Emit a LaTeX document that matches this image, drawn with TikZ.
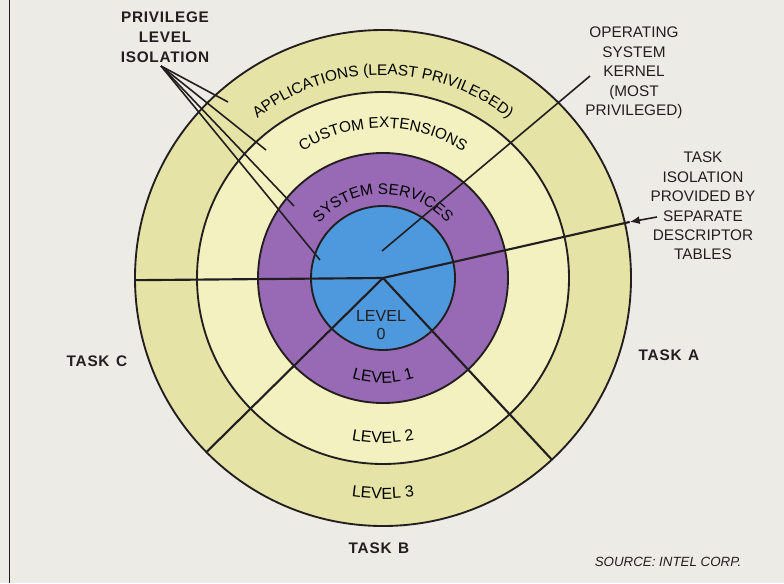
\documentclass[tikz,border=0pt]{standalone}
\usepackage{xcolor}
\usepackage{fontspec}
\setmainfont{Liberation Sans}
\usepackage{tikz}
\usetikzlibrary{calc,decorations.text,arrows.meta}
\definecolor{PaperGrey}{RGB}{237,235,229}
\definecolor{RingApps}{RGB}{230,227,166}
\definecolor{RingCustom}{RGB}{244,241,192}
\definecolor{RingServices}{RGB}{152,106,182}
\definecolor{RingKernel}{RGB}{78,152,222}
\definecolor{InkDark}{RGB}{35,31,32}
\newcommand{\notefont}{\fontsize{11.5}{14.6}\selectfont}
\newcommand{\taskfont}{\fontsize{11.5}{14.6}\selectfont\bfseries\addfontfeature{LetterSpace=5}}
\newcommand{\ringfont}{\fontsize{11.5}{14}\selectfont}
\newcommand{\levelfont}{\fontsize{12}{14}\selectfont}
\tikzset{
  ring/.style={draw=InkDark,line width=1.4pt},
  divider/.style={draw=InkDark,line width=1.6pt},
  pointer/.style={draw=InkDark,line width=1.2pt},
  notebox/.style={text=InkDark,align=center,inner sep=0pt,font=\notefont},
  taskbox/.style={text=InkDark,align=center,inner sep=0pt,font=\taskfont}
}

\begin{document}
\begin{tikzpicture}[x=0.75pt,y=0.75pt]
  \fill[PaperGrey] (0,0) rectangle (784,583);
  \useasboundingbox (0,0) rectangle (784,583);
  \draw[InkDark,line width=0.9pt] (9.5,0) -- (9.5,583);

  % the four privilege rings
  \coordinate (c) at (383,305);
  \draw[ring,fill=RingApps] (c) circle[radius=248];
  \draw[ring,fill=RingCustom] (c) circle[radius=186];
  \draw[ring,fill=RingServices] (c) circle[radius=125];
  \draw[ring,fill=RingKernel] (c) circle[radius=72];

  % task dividers
  \coordinate (divC) at ($(c)+(180.5:248)$);
  \coordinate (divA) at ($(c)+(12.8:253)$);
  \coordinate (divBl) at ($(c)+(224.6:248)$);
  \coordinate (divBr) at ($(c)+(312.9:248)$);
  \foreach \d in {divC,divA,divBl,divBr}
    \draw[divider] (c) -- (\d);

  % ring texts
  \path[decorate,decoration={text along path,text align=center,
      text={|\ringfont|APPLICATIONS (LEAST PRIVILEGED)}}]
    ($(c)+(180:203)$) arc[start angle=180,end angle=0,radius=203];
  \path[decorate,decoration={text along path,text align=center,
      text={|\ringfont|CUSTOM EXTENSIONS}}]
    ($(c)+(180:150)$) arc[start angle=180,end angle=0,radius=150];
  \path[decorate,decoration={text along path,text align=center,
      text={|\ringfont|SYSTEM SERVICES}}]
    ($(c)+(180:84)$) arc[start angle=180,end angle=0,radius=84];
  \path[decorate,decoration={text along path,text align=center,
      text={|\levelfont|LEVEL 1}}]
    ($(c)+(180:105)$) arc[start angle=180,end angle=360,radius=105];
  \path[decorate,decoration={text along path,text align=center,
      text={|\levelfont|LEVEL 2}}]
    ($(c)+(180:165)$) arc[start angle=180,end angle=360,radius=165];
  \path[decorate,decoration={text along path,text align=center,
      text={|\levelfont|LEVEL 3}}]
    ($(c)+(180:221)$) arc[start angle=180,end angle=360,radius=221];
  \node[notebox,font=\levelfont] (lvl0) at (381,258) {LEVEL\\[-0.6pt]0};

  % labels
  \node[taskbox] (pli) at (165,546) {PRIVILEGE\\[0.2pt]LEVEL\\[0.2pt]ISOLATION};
  \node[notebox] (osk) at (634,510) {OPERATING\\SYSTEM\\KERNEL\\(MOST\\PRIVILEGED)};
  \node[notebox] (tiso) at (703,377) {TASK\\ISOLATION\\PROVIDED BY\\SEPARATE\\DESCRIPTOR\\TABLES};
  \node[taskbox] (taskC) at (97,222) {TASK\hspace{5pt}C};
  \node[taskbox] (taskA) at (669,228) {TASK\hspace{5pt}A};
  \node[taskbox] (taskB) at (379,35) {TASK\hspace{5pt}B};
  \node[text=InkDark,inner sep=0pt,font=\fontsize{10}{12}\selectfont\itshape] (src) at (668,21) {SOURCE: INTEL CORP.};

  % pointers
  \coordinate (pliTip) at (161,517);
  \foreach \x/\y in {228/481,266/433,294/377,320/323}
    \draw[pointer] (pliTip) -- (\x,\y);
  \coordinate (oskTip) at (590,507);
  \coordinate (oskEnd) at (382,332);
  \draw[pointer] (oskTip) -- (oskEnd);
  \coordinate (tisoTail) at (657,366);
  \draw[pointer,-{Latex[length=7.5pt,width=6pt]}] (tisoTail) -- (divA);
\end{tikzpicture}
\end{document}
